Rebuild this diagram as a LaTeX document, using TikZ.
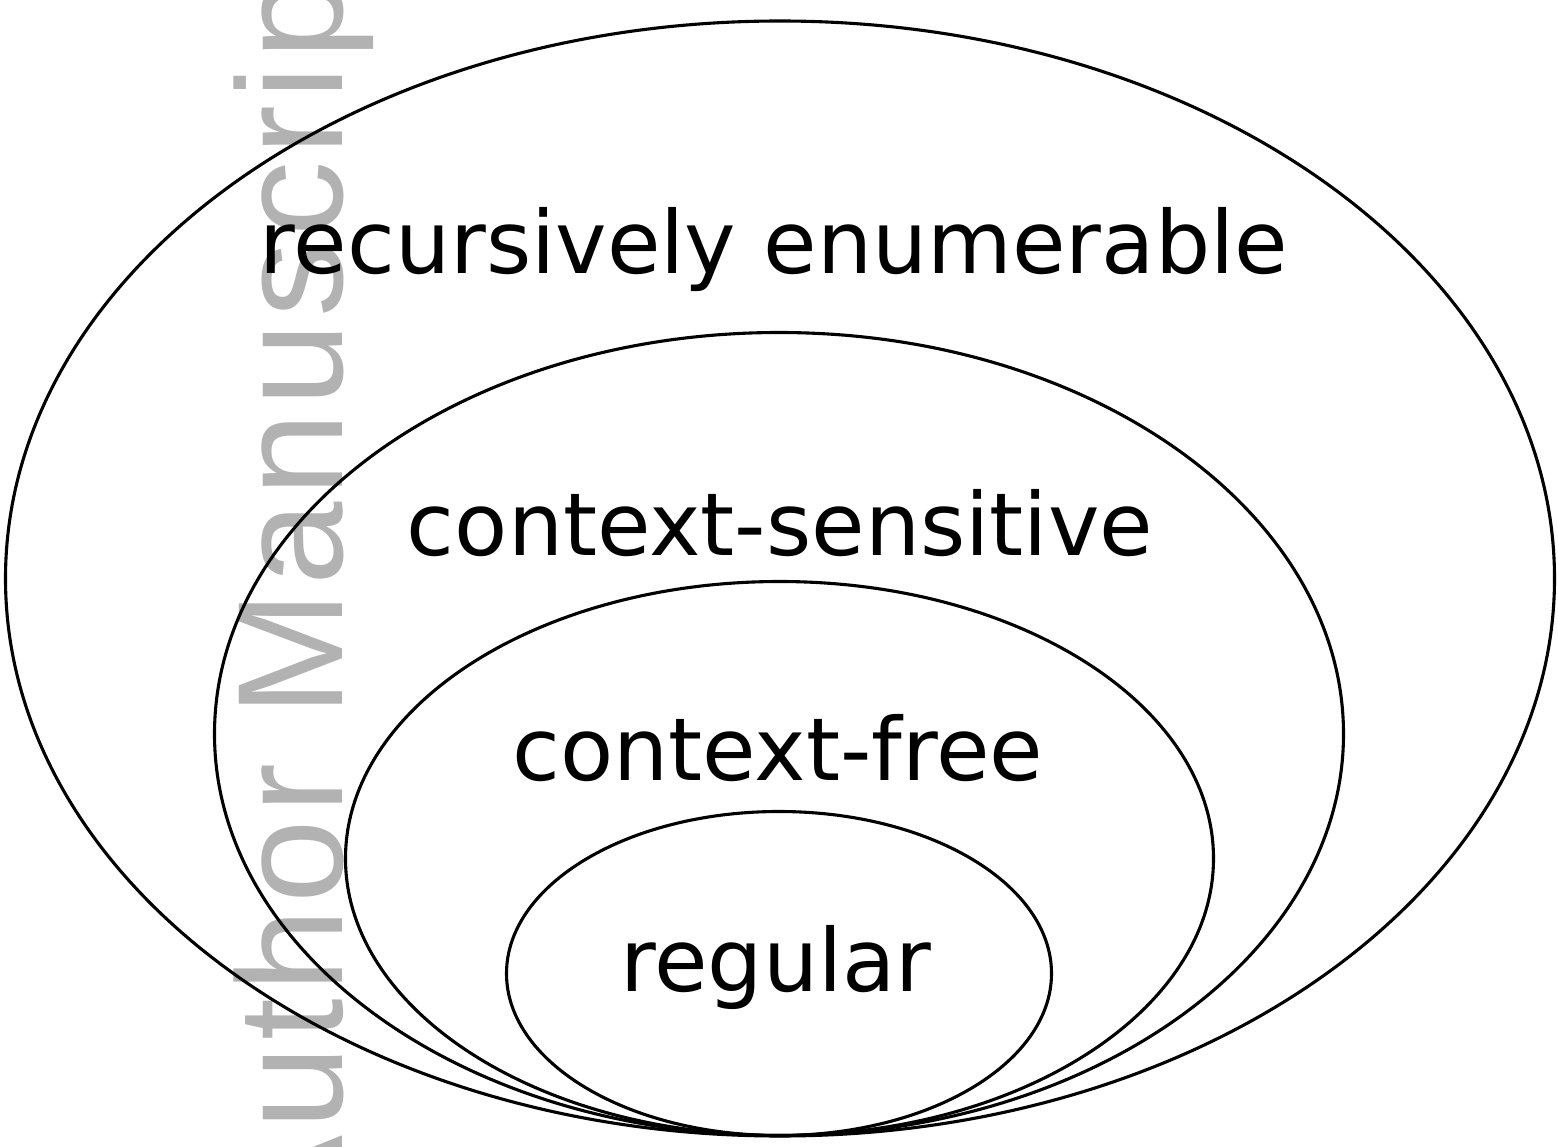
\documentclass[tikz,border=0pt]{standalone}
\usepackage{fontspec}
\setmainfont{DejaVu Sans}
\newfontfamily\wmfont[LetterSpace=4]{Liberation Sans}
\usetikzlibrary{shapes.geometric}
\begin{document}
\begin{tikzpicture}[x=1pt,y=-1pt,
  setring/.style={draw=black, line width=3.1pt, ellipse, inner sep=0pt, outer sep=0pt},
  setlabel/.style={font=\fontsize{87}{100}\selectfont, anchor=base, inner sep=0pt},
  watermark/.style={font=\wmfont\fontsize{150}{160}\selectfont, text=black!30, rotate=90, anchor=base west, inner sep=0pt}]
\useasboundingbox (0,0) rectangle (1558,1147);
\begin{scope}
\clip (0,0) rectangle (1558,1147);
\node[watermark] (wm) at (342,1236) {Author Manuscript};
\end{scope}
\node[setring, minimum width=1549pt, minimum height=1115pt] (re) at (780,578.5) {};
\node[setring, minimum width=1129pt, minimum height=803pt] (cs) at (779,734) {};
\node[setring, minimum width=868pt, minimum height=554pt] (cf) at (779.5,858.5) {};
\node[setring, minimum width=545pt, minimum height=324pt] (rg) at (779,973.5) {};
\node[setlabel] (tre) at (774,274) {recursively enumerable};
\node[setlabel] (tcs) at (780,555) {context-sensitive};
\node[setlabel] (tcf) at (778,780) {context-free};
\node[setlabel] (trg) at (776,991) {regular};
\end{tikzpicture}
\end{document}
